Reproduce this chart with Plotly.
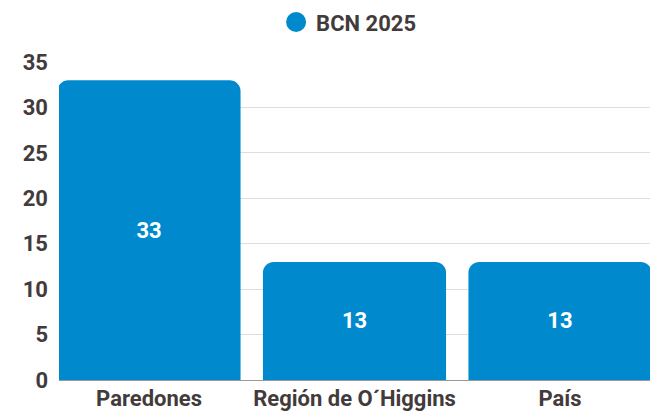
import plotly.graph_objects as go

categories = ["Paredones", "Región de O´Higgins", "País"]
values = [33, 13, 13]
series_name = "BCN 2025"
y_ticks = [0, 5, 10, 15, 20, 25, 30, 35]

bar_color = "#008acd"
text_color = "#433b3b"

fig = go.Figure()
fig.add_trace(go.Bar(
    x=categories, y=values, name=series_name, showlegend=False,
    marker=dict(color=bar_color, line=dict(width=0)),
    text=[str(v) for v in values], textposition="inside",
    insidetextanchor="middle",
    textfont=dict(family="Roboto", size=22, color="white", weight="bold"),
    hoverinfo="x+y",
))
fig.add_trace(go.Scatter(
    x=[categories[0]], y=[None], mode="markers", name=series_name,
    marker=dict(symbol="circle", size=16, color=bar_color,
                line=dict(width=4, color=bar_color)),
    showlegend=True,
))
fig.update_layout(
    width=657, height=411,
    margin=dict(l=59, r=7, t=62, b=31, autoexpand=False),
    paper_bgcolor="white", plot_bgcolor="white",
    bargap=0.109, barcornerradius=11,
    font=dict(family="Roboto", color=text_color),
    legend=dict(orientation="h", x=0.49, xanchor="center", y=0.946, yanchor="middle",
                yref="container", font=dict(size=22, weight="bold", color=text_color),
                itemsizing="trace"),
    xaxis=dict(range=[-0.438, 2.438], showgrid=False, ticks="", automargin=False,
               tickfont=dict(size=22, weight="bold", color=text_color),
               ticklabelstandoff=3),
    yaxis=dict(range=[0, 35], tickvals=y_ticks, showgrid=True, gridcolor="#dddddd",
               zeroline=True, zerolinecolor="#999999", zerolinewidth=1, automargin=False,
               tickfont=dict(size=22, weight="bold", color=text_color), ticks="",
               ticklabelstandoff=10),
)
fig.write_html("out.html", config={"displayModeBar": False},
               post_script="document.body.style.margin='0';document.body.style.overflow='hidden';")
